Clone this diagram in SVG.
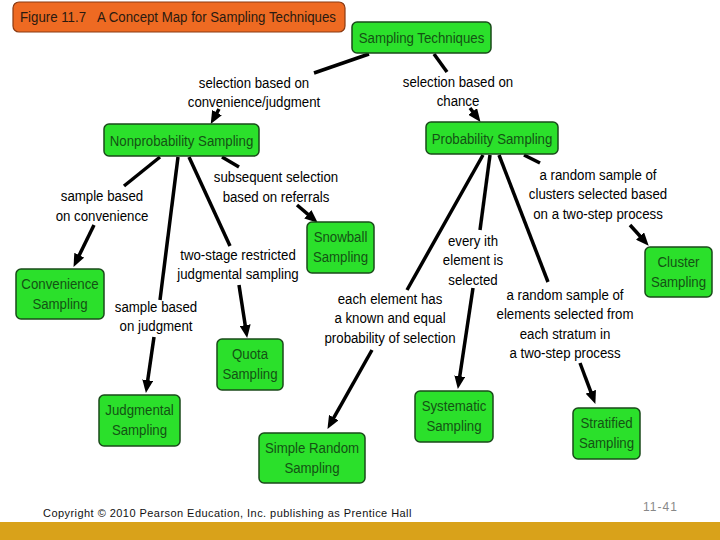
<svg xmlns="http://www.w3.org/2000/svg" width="720" height="540" viewBox="0 0 720 540">
<defs>
<marker id="arr" markerUnits="userSpaceOnUse" markerWidth="13" markerHeight="11" refX="6" refY="5.5" orient="auto">
<path d="M0,0 L13,5.5 L0,11 z" fill="#000"/>
</marker>
<style>
.node rect{fill:#2BE02B;stroke:#1A4A1A;stroke-width:1.5}
.node text{font-family:"Liberation Sans",Arial,sans-serif;font-size:15.5px;fill:#145214;text-anchor:middle}
.lbl{font-family:"Liberation Sans",Arial,sans-serif;font-size:15.5px;fill:#000;text-anchor:middle}
.c line{stroke:#000;stroke-width:3.5}
.c line.a{marker-end:url(#arr)}
</style>
</defs>
<rect width="720" height="540" fill="#fff"/>
<g id="title">
<rect x="13" y="2" width="332" height="30" rx="6" fill="#EE6A22" stroke="#8A3A12" stroke-width="1.2"/>
<text transform="translate(20,21.5) scale(0.855,1)" font-family="Liberation Sans,Arial,sans-serif" font-size="15.5" fill="#2A1A10"><tspan x="0">Figure 11.7</tspan><tspan x="90">A Concept Map for Sampling Techniques</tspan></text>
</g>
<g id="connectors" class="c">
<line x1="369" y1="54" x2="314" y2="73"/>
<line class="a" x1="219" y1="109" x2="214.1" y2="117.9"/>
<line x1="434" y1="54" x2="447" y2="72"/>
<line class="a" x1="470" y1="108" x2="476.3" y2="116.3"/>
<line x1="160" y1="157" x2="124" y2="186"/>
<line class="a" x1="94" y1="225" x2="76.6" y2="260.6"/>
<line x1="178" y1="157" x2="160" y2="300"/>
<line class="a" x1="154" y1="337" x2="146.9" y2="386.1"/>
<line x1="189" y1="157" x2="230" y2="246"/>
<line class="a" x1="239" y1="285" x2="246.1" y2="331.1"/>
<line x1="222" y1="157" x2="239" y2="167"/>
<line class="a" x1="297" y1="205" x2="312.4" y2="218.1"/>
<line x1="483" y1="155" x2="407" y2="290"/>
<line class="a" x1="372" y1="350" x2="330.9" y2="422.8"/>
<line x1="490" y1="155" x2="480" y2="230"/>
<line class="a" x1="473" y1="288" x2="458.9" y2="382.1"/>
<line x1="499" y1="155" x2="548" y2="282"/>
<line class="a" x1="580" y1="363" x2="592.9" y2="397.4"/>
<line x1="524" y1="155" x2="540" y2="163"/>
<line class="a" x1="630" y1="225" x2="644" y2="240.5"/>
</g>
<g id="labels">
<text class="lbl" transform="translate(254,88) scale(0.855,1)"><tspan x="0">selection based on</tspan><tspan x="0" dy="19.5">convenience/judgment</tspan></text>
<text class="lbl" transform="translate(458,87) scale(0.855,1)"><tspan x="0">selection based on</tspan><tspan x="0" dy="19.5">chance</tspan></text>
<text class="lbl" transform="translate(276,182) scale(0.855,1)"><tspan x="0">subsequent selection</tspan><tspan x="0" dy="20">based on referrals</tspan></text>
<text class="lbl" transform="translate(102,201) scale(0.855,1)"><tspan x="0">sample based</tspan><tspan x="0" dy="20">on convenience</tspan></text>
<text class="lbl" transform="translate(238,260) scale(0.855,1)"><tspan x="0">two-stage restricted</tspan><tspan x="0" dy="19.5">judgmental sampling</tspan></text>
<text class="lbl" transform="translate(156,312) scale(0.855,1)"><tspan x="0">sample based</tspan><tspan x="0" dy="19.5">on judgment</tspan></text>
<text class="lbl" transform="translate(390,304) scale(0.855,1)"><tspan x="0">each element has</tspan><tspan x="0" dy="19.5">a known and equal</tspan><tspan x="0" dy="19.5">probability of selection</tspan></text>
<text class="lbl" transform="translate(473,246) scale(0.855,1)"><tspan x="0">every ith</tspan><tspan x="0" dy="19.3">element is</tspan><tspan x="0" dy="19.3">selected</tspan></text>
<text class="lbl" transform="translate(598,180) scale(0.855,1)"><tspan x="0">a random sample of</tspan><tspan x="0" dy="19.3">clusters selected based</tspan><tspan x="0" dy="19.3">on a two-step process</tspan></text>
<text class="lbl" transform="translate(565,300) scale(0.855,1)"><tspan x="0">a random sample of</tspan><tspan x="0" dy="19.3">elements selected from</tspan><tspan x="0" dy="19.3">each stratum in</tspan><tspan x="0" dy="19.3">a two-step process</tspan></text>
</g>
<g id="n-sampling" class="node"><rect x="352" y="22" width="139" height="31" rx="5"/><text transform="translate(421.5,43) scale(0.855,1)">Sampling Techniques</text></g>
<g id="n-nonprob" class="node"><rect x="104" y="124" width="155" height="32" rx="5"/><text transform="translate(181.5,145.5) scale(0.855,1)">Nonprobability Sampling</text></g>
<g id="n-prob" class="node"><rect x="426" y="122" width="132" height="32" rx="5"/><text transform="translate(492,143.5) scale(0.855,1)">Probability Sampling</text></g>
<g id="n-convenience" class="node"><rect x="16" y="269" width="88" height="50" rx="5"/><text transform="translate(60,289) scale(0.855,1)"><tspan x="0">Convenience</tspan><tspan x="0" dy="20">Sampling</tspan></text></g>
<g id="n-snowball" class="node"><rect x="307" y="222" width="67" height="51" rx="5"/><text transform="translate(340.5,242) scale(0.855,1)"><tspan x="0">Snowball</tspan><tspan x="0" dy="20">Sampling</tspan></text></g>
<g id="n-cluster" class="node"><rect x="645" y="247" width="67" height="50" rx="5"/><text transform="translate(678.5,267) scale(0.855,1)"><tspan x="0">Cluster</tspan><tspan x="0" dy="20">Sampling</tspan></text></g>
<g id="n-quota" class="node"><rect x="217" y="339" width="66" height="51" rx="5"/><text transform="translate(250,359) scale(0.855,1)"><tspan x="0">Quota</tspan><tspan x="0" dy="20">Sampling</tspan></text></g>
<g id="n-judgmental" class="node"><rect x="99" y="395" width="81" height="51" rx="5"/><text transform="translate(139.5,415) scale(0.855,1)"><tspan x="0">Judgmental</tspan><tspan x="0" dy="20">Sampling</tspan></text></g>
<g id="n-simple" class="node"><rect x="259" y="433" width="106" height="50" rx="5"/><text transform="translate(312,453) scale(0.855,1)"><tspan x="0">Simple Random</tspan><tspan x="0" dy="20">Sampling</tspan></text></g>
<g id="n-systematic" class="node"><rect x="415" y="391" width="78" height="51" rx="5"/><text transform="translate(454,411) scale(0.855,1)"><tspan x="0">Systematic</tspan><tspan x="0" dy="20">Sampling</tspan></text></g>
<g id="n-stratified" class="node"><rect x="573" y="408" width="67" height="51" rx="5"/><text transform="translate(606.5,428) scale(0.855,1)"><tspan x="0">Stratified</tspan><tspan x="0" dy="20">Sampling</tspan></text></g>
<g id="footer">
<rect x="0" y="522" width="720" height="18" fill="#D9A21A"/>
<text x="43" y="517" font-family="Liberation Sans,Arial,sans-serif" font-size="11" letter-spacing="0.45" fill="#111">Copyright © 2010 Pearson Education, Inc. publishing as Prentice Hall</text>
<text x="643" y="511" font-family="Liberation Sans,Arial,sans-serif" font-size="12" letter-spacing="1" fill="#888">11-41</text>
</g>
</svg>
